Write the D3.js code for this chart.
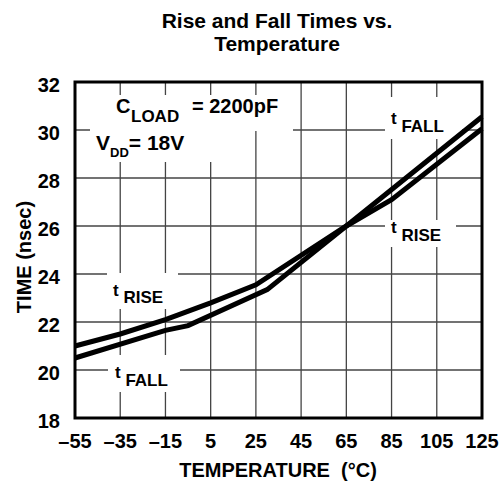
<!DOCTYPE html>
<html>
<head>
<meta charset="utf-8">
<script src="https://cdn.jsdelivr.net/npm/d3@7"></script>
<style>
  html, body { margin: 0; padding: 0; background: #fff; }
  svg { display: block; font-family: "Liberation Sans", Arial, Helvetica, sans-serif; font-weight: bold; }
  text { white-space: pre; }
</style>
</head>
<body>
<svg id="chart" width="502" height="482"></svg>
<script>
// Rise and fall times vs. temperature, CLOAD = 2200pF, VDD = 18V
const xTicks = [-55, -35, -15, 5, 25, 45, 65, 85, 105, 125];
const yTicks = [18, 20, 22, 24, 26, 28, 30, 32];

const riseTemp = [-55, -35, -15, 5, 25, 65, 85, 125];
const riseNs   = [21.0, 21.5, 22.1, 22.8, 23.55, 26.0, 27.1, 30.05];

const fallTemp = [-55, -15, -5, 30, 65, 125];
const fallNs   = [20.5, 21.65, 21.85, 23.35, 26.0, 30.55];

const W = 502, H = 482;
const M = { left: 75, right: 20, top: 82, bottom: 64 };

const svg = d3.select('#chart');
const x = d3.scaleLinear().domain([-55, 125]).range([M.left, W - M.right]);
const y = d3.scaleLinear().domain([18, 32]).range([H - M.bottom, M.top]);

// title
svg.append('text').attr('x', 277).attr('y', 28).attr('text-anchor', 'middle')
  .attr('font-size', 21).text('Rise and Fall Times vs.');
svg.append('text').attr('x', 277).attr('y', 51).attr('text-anchor', 'middle')
  .attr('font-size', 21).text('Temperature');

// grid
const grid = svg.append('g').attr('stroke', '#444').attr('stroke-width', 1.3);
xTicks.slice(1, -1).forEach(t => grid.append('line')
  .attr('x1', x(t)).attr('x2', x(t)).attr('y1', y(32)).attr('y2', y(18)));
yTicks.slice(1, -1).forEach(v => grid.append('line')
  .attr('x1', x(-55)).attr('x2', x(125)).attr('y1', y(v)).attr('y2', y(v)));

// white boxes behind the labels (they cut the grid)
const boxes = [[100, 95, 193, 36], [90, 129, 140, 33], [385, 97, 77, 42],
               [385, 220, 71, 27], [107, 273, 71, 36], [108, 355, 72, 37]];
svg.append('g').selectAll('rect').data(boxes).join('rect')
  .attr('x', d => d[0]).attr('y', d => d[1]).attr('width', d => d[2]).attr('height', d => d[3])
  .attr('fill', '#fff');

// curves
const line = d3.line().x(d => x(d[0])).y(d => y(d[1]));
[[riseTemp, riseNs], [fallTemp, fallNs]].forEach(([t, v]) => {
  svg.append('path').attr('d', line(d3.zip(t, v)))
    .attr('fill', 'none').attr('stroke', '#000').attr('stroke-width', 5);
});

// frame
svg.append('rect').attr('x', x(-55)).attr('y', y(32))
  .attr('width', x(125) - x(-55)).attr('height', y(18) - y(32))
  .attr('fill', 'none').attr('stroke', '#000').attr('stroke-width', 3);

// tick labels
svg.append('g').selectAll('text').data(yTicks).join('text')
  .attr('x', 60).attr('y', d => y(d) + 10).attr('text-anchor', 'end')
  .attr('font-size', 20).text(d => d);
svg.append('g').selectAll('text').data(xTicks).join('text')
  .attr('x', d => x(d)).attr('y', 448).attr('text-anchor', 'middle')
  .attr('font-size', 20).text(d => d < 0 ? '\u2013' + Math.abs(d) : d);

// axis titles
svg.append('text').attr('x', 278).attr('y', 477).attr('text-anchor', 'middle')
  .attr('font-size', 20).text('TEMPERATURE  (\u00B0C)');
svg.append('text').attr('transform', 'translate(31,257) rotate(-90)')
  .attr('text-anchor', 'middle').attr('font-size', 20).text('TIME (nsec)');

// annotations
function tLabel(px, py, s, dy) {
  const t = svg.append('text').attr('x', px).attr('y', py).attr('font-size', 17);
  t.append('tspan').text('t ');
  t.append('tspan').attr('dy', dy).text(s);
}
const cl = svg.append('text').attr('x', 116).attr('y', 113).attr('font-size', 20);
cl.append('tspan').text('C');
cl.append('tspan').attr('x', 131).attr('dy', 9).attr('font-size', 17).text('LOAD');
cl.append('tspan').attr('x', 192).attr('dy', -9).text('= 2200pF');

const vd = svg.append('text').attr('x', 96).attr('y', 150).attr('font-size', 21);
vd.append('tspan').text('V');
vd.append('tspan').attr('dy', 7).attr('font-size', 13).text('DD');
vd.append('tspan').attr('dy', -7).text('= 18V');

tLabel(391, 124, 'FALL', 8);
tLabel(391, 233, 'RISE', 8);
tLabel(113, 296, 'RISE', 7);
tLabel(115, 378, 'FALL', 8);
</script>
</body>
</html>
